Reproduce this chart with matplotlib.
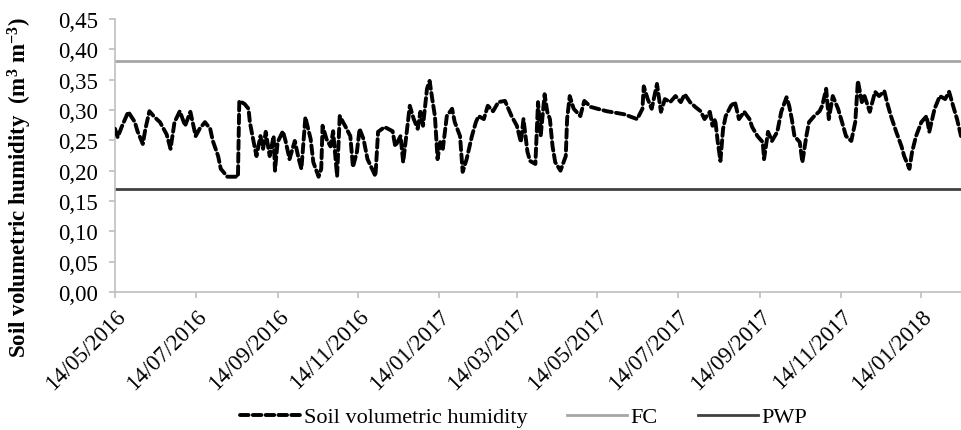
import matplotlib
matplotlib.use("Agg")
import matplotlib.pyplot as plt
import numpy as np
import pandas as pd
from matplotlib.ticker import FuncFormatter, MultipleLocator

start_date = "2016-05-14"
# days since 14/05/2016
days = [0, 2, 5, 10, 15, 17, 21, 23, 26, 30, 34, 39, 42, 45, 49, 53, 57, 61, 64, 68,
        72, 74, 78, 80, 85, 88, 93, 94, 98, 101, 102, 104, 107, 110, 112, 114, 117, 120, 121, 123,
        127, 129, 132, 136, 139, 141, 144, 148, 150, 154, 156, 157, 160,
        163, 165, 168, 170, 174, 178, 180, 183, 185, 188, 191, 197, 199, 204, 210, 212, 216,
        218, 221, 223, 226, 229, 231, 233, 236, 238, 240, 242, 244, 246, 248, 251, 255, 257, 261,
        263, 266, 270, 273, 275, 279, 282, 286, 290, 295, 297, 300, 304, 307, 309, 312, 314, 318, 320,
        322, 325, 327, 329, 331, 333, 337, 341, 342, 344, 347, 352, 355, 360, 365, 372, 385, 395,
        399, 400, 403, 406, 410, 413, 416, 420, 424, 428, 431, 435, 439, 443, 446, 450, 452, 454,
        456, 458, 460, 462, 466, 469, 472, 476, 480,
        482, 486, 490, 491, 494, 497, 501, 504, 508, 510, 512, 514, 518, 520, 523, 525, 529, 533,
        535, 538, 540, 543, 547, 550, 553, 557, 560, 562, 565, 567, 571, 575, 578, 582, 584, 587,
        591, 595, 597, 601, 603, 606, 610, 614, 616, 620, 624, 628, 631, 634, 637, 640]
humidity = [0.269, 0.255, 0.272, 0.297, 0.280, 0.265, 0.244, 0.269, 0.298, 0.288, 0.280, 0.260, 0.236, 0.280, 0.298, 0.274, 0.297, 0.257, 0.269, 0.280,
            0.269, 0.249, 0.224, 0.203, 0.190, 0.190, 0.190, 0.315, 0.310, 0.302, 0.280, 0.257, 0.224, 0.257, 0.236, 0.264, 0.224, 0.257, 0.200, 0.247,
            0.265, 0.249, 0.219, 0.249, 0.219, 0.203, 0.288, 0.252, 0.214, 0.190, 0.203, 0.274, 0.252,
            0.240, 0.265, 0.191, 0.290, 0.274, 0.257, 0.206, 0.231, 0.269, 0.252, 0.219, 0.191, 0.264, 0.272, 0.265, 0.240, 0.257,
            0.214, 0.269, 0.307, 0.285, 0.269, 0.297, 0.274, 0.335, 0.348, 0.318, 0.290, 0.219, 0.247, 0.236, 0.290, 0.302, 0.280, 0.257,
            0.198, 0.219, 0.257, 0.280, 0.290, 0.285, 0.307, 0.298, 0.313, 0.315, 0.305, 0.290, 0.274, 0.247, 0.285, 0.231, 0.216, 0.211, 0.313,
            0.257, 0.326, 0.297, 0.285, 0.240, 0.214, 0.200, 0.224, 0.285, 0.323, 0.302, 0.290, 0.315, 0.305, 0.302, 0.298, 0.293, 0.285,
            0.302, 0.339, 0.318, 0.302, 0.343, 0.297, 0.318, 0.313, 0.323, 0.313, 0.326, 0.313, 0.305, 0.298, 0.285, 0.297, 0.274, 0.285,
            0.247, 0.216, 0.269, 0.290, 0.307, 0.313, 0.285, 0.297, 0.285,
            0.272, 0.257, 0.247, 0.219, 0.264, 0.249, 0.264, 0.297, 0.321, 0.307, 0.285, 0.257, 0.247, 0.214, 0.257, 0.280, 0.290, 0.298,
            0.307, 0.335, 0.285, 0.323, 0.302, 0.280, 0.257, 0.249, 0.280, 0.348, 0.313, 0.323, 0.297, 0.330, 0.323, 0.331, 0.313, 0.290,
            0.264, 0.240, 0.224, 0.203, 0.231, 0.257, 0.280, 0.290, 0.264, 0.302, 0.323, 0.318, 0.330, 0.307, 0.285, 0.257]
fc_value = 0.38
pwp_value = 0.17
tick_dates = ["2016-05-14", "2016-07-14", "2016-09-14", "2016-11-14", "2017-01-14", "2017-03-14",
              "2017-05-14", "2017-07-14", "2017-09-14", "2017-11-14", "2018-01-14"]
series_labels = ["Soil volumetric humidity", "FC", "PWP"]

plt.rcParams['font.family'] = ['Liberation Serif', 'DejaVu Serif']
plt.rcParams['mathtext.fontset'] = 'custom'
plt.rcParams['mathtext.rm'] = 'Liberation Serif'
plt.rcParams['mathtext.bf'] = 'Liberation Serif:bold'
plt.rcParams['mathtext.it'] = 'Liberation Serif:italic'

dates = pd.Timestamp(start_date) + pd.to_timedelta(days, unit="D")
xmin = pd.Timestamp(start_date)
xmax = pd.Timestamp(start_date) + pd.Timedelta(days=days[-1])

fig = plt.figure(figsize=(9.61, 4.31), dpi=100)
ax = fig.add_axes([0.1197, 0.3202, 0.8803, 0.6334])

ax.plot([xmin, xmax], [fc_value, fc_value], color="#a6a6a6", lw=2.0, label=series_labels[1], zorder=2)
ax.plot([xmin, xmax], [pwp_value, pwp_value], color="#404040", lw=2.0, label=series_labels[2], zorder=2)
ln, = ax.plot(dates, humidity, color="black", lw=2.8, dashes=(2.2, 1.1),
              dash_capstyle="round", solid_capstyle="round", label=series_labels[0], zorder=3)

ax.set_xlim(xmin, xmax)
ax.set_ylim(0, 0.45)
ax.yaxis.set_major_locator(MultipleLocator(0.05))
ax.yaxis.set_major_formatter(FuncFormatter(lambda v, p: f"{v:.2f}".replace(".", ",")))
ax.set_xticks(pd.to_datetime(tick_dates))
ax.set_xticklabels([pd.Timestamp(d).strftime("%d/%m/%Y") for d in tick_dates],
                   rotation=45, ha="right", rotation_mode="anchor")

for s in ["top", "right"]:
    ax.spines[s].set_visible(False)
for s in ["left", "bottom"]:
    ax.spines[s].set_color("#bfbfbf")
    ax.spines[s].set_linewidth(1.2)
ax.tick_params(axis="both", colors="#bfbfbf", labelcolor="black", labelsize=16.5, length=4.5, width=1.2)
ax.tick_params(axis="y", pad=8)
ax.tick_params(axis="x", pad=5)

ax.set_ylabel(r"Soil volumetric humidity  (m$^{\mathbf{3}}$ m$^{\mathbf{-3}}$)",
              fontsize=16.5, fontweight="bold")
ax.yaxis.set_label_coords(-0.096, 0.385)

handles = [ln, ax.lines[0], ax.lines[1]]
fig.legend(handles, series_labels, loc="center", bbox_to_anchor=(0.545, 0.03), ncol=3,
           frameon=False, fontsize=16, handlelength=2.7, columnspacing=1.8, handletextpad=0.15)

fig.savefig("out.png", dpi=100)
